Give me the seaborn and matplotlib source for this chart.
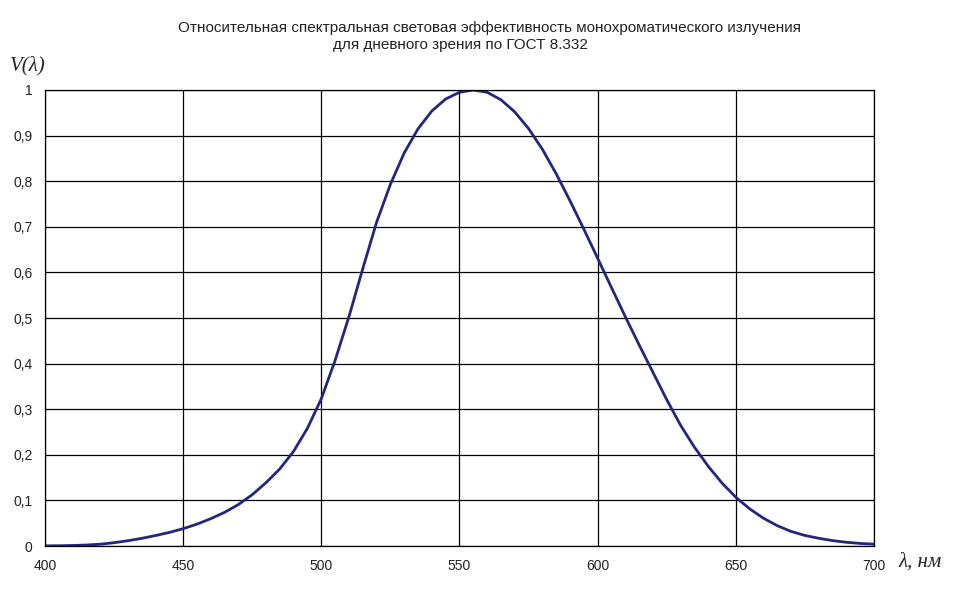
import numpy as np
import pandas as pd
import matplotlib
matplotlib.use("Agg")
import matplotlib.pyplot as plt
import seaborn as sns
from matplotlib.ticker import FuncFormatter, MultipleLocator

# ==================== данные: V(λ), ГОСТ 8.332 ====================
wavelength_nm = [400, 405, 410, 415, 420, 425, 430, 435, 440, 445, 450, 455, 460, 465,
                 470, 475, 480, 485, 490, 495, 500, 505, 510, 515, 520, 525, 530, 535,
                 540, 545, 550, 555, 560, 565, 570, 575, 580, 585, 590, 595, 600, 605,
                 610, 615, 620, 625, 630, 635, 640, 645, 650, 655, 660, 665, 670, 675,
                 680, 685, 690, 695, 700]
v_lambda = [0.0004, 0.0006, 0.0012, 0.0022, 0.0040, 0.0073, 0.0116, 0.0168, 0.0230,
            0.0298, 0.0380, 0.0480, 0.0600, 0.0739, 0.0910, 0.1126, 0.1390, 0.1693,
            0.2080, 0.2586, 0.3230, 0.4073, 0.5030, 0.6082, 0.7100, 0.7932, 0.8620,
            0.9149, 0.9540, 0.9803, 0.9950, 1.0000, 0.9950, 0.9786, 0.9520, 0.9154,
            0.8700, 0.8163, 0.7570, 0.6949, 0.6310, 0.5668, 0.5030, 0.4412, 0.3810,
            0.3210, 0.2650, 0.2170, 0.1750, 0.1382, 0.1070, 0.0816, 0.0610, 0.0446,
            0.0320, 0.0232, 0.0170, 0.0119, 0.0082, 0.0057, 0.0041]

title_line1 = "Относительная спектральная световая эффективность монохроматического излучения"
title_line2 = "для дневного зрения по ГОСТ 8.332"

df = pd.DataFrame({"wl": wavelength_nm, "v": v_lambda})

sns.set_style("white")
plt.rcParams['font.family'] = ['Liberation Sans', 'DejaVu Sans']

fig = plt.figure(figsize=(9.74, 6.16), dpi=100)
ax = fig.add_axes([0.0462, 0.1136, 0.8511, 0.7403])

sns.lineplot(data=df, x="wl", y="v", color="#25257d", linewidth=2.0, ax=ax)

ax.set_xlim(400, 700)
ax.set_ylim(0, 1)
ax.xaxis.set_major_locator(MultipleLocator(50))
ax.yaxis.set_major_locator(MultipleLocator(0.1))
ax.yaxis.set_major_formatter(FuncFormatter(lambda v, _: f"{v:.1f}".rstrip("0").rstrip(".").replace(".", ",") if v else "0"))
ax.grid(True, color="black", linewidth=0.9)
ax.set_axisbelow(True)
for s in ax.spines.values():
    s.set_color("black")
    s.set_linewidth(0.9)
ax.tick_params(axis="both", direction="out", length=5, width=0.9, color="black",
               labelsize=10, labelcolor="#222222", pad=4)
ax.set_xlabel("")
ax.set_ylabel("")

fig.text(490 / 974, 1 - 28 / 616, title_line1, ha="center", va="center", fontsize=11,
         color="#222222")
fig.text(460 / 974, 1 - 45 / 616, title_line2, ha="center", va="center", fontsize=11,
         color="#222222")
fig.text(0.010, 0.893, "V(λ)", ha="left", va="center", fontsize=15,
         family=["Liberation Serif", "DejaVu Serif"], style="italic")
fig.text(0.923, 0.088, "λ, нм", ha="left", va="center", fontsize=15,
         family=["Liberation Serif", "DejaVu Serif"], style="italic")

fig.savefig("out.png", dpi=100)
